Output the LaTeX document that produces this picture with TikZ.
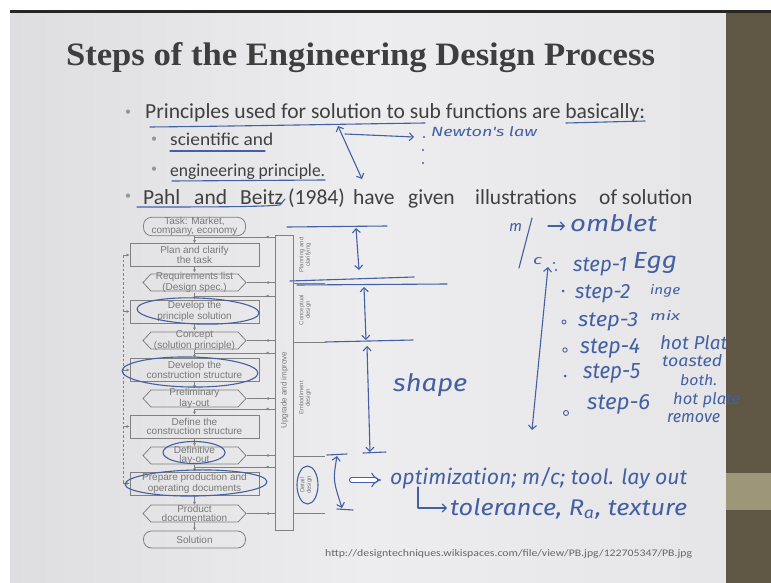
\documentclass[tikz,border=0pt]{standalone}
\usepackage{fontspec}
\setmainfont{Liberation Serif}
\newfontfamily\bodyfont{Carlito}
\newfontfamily\chartfont{Liberation Sans}
\newfontfamily\handfont{Fira Sans}
\usetikzlibrary{arrows.meta,calc,decorations.markings}

\definecolor{slidemid}{RGB}{237,237,239}
\definecolor{slideedge}{RGB}{222,222,224}
\definecolor{bandolive}{RGB}{96,86,68}
\definecolor{bandlight}{RGB}{158,150,120}
\definecolor{rulecol}{RGB}{40,38,36}
\definecolor{titlecol}{RGB}{62,62,62}
\definecolor{bodycol}{RGB}{64,64,64}
\definecolor{bulletcol}{RGB}{150,150,150}
\definecolor{chartline}{RGB}{128,128,128}
\definecolor{charttext}{RGB}{120,120,120}
\definecolor{ink}{RGB}{66,96,162}

% handwritten word, stretched into a box of given width and height
\newcommand\hw[3]{\resizebox{#1pt}{#2pt}{\handfont\itshape #3}}

\tikzset{
  chartedge/.style={draw=chartline, line width=0.8pt},
  chart/.style={font=\chartfont\fontsize{10}{9}\selectfont, text=charttext, align=center, inner sep=0pt},
  rectbox/.style={chart, chartedge, minimum width=129pt, minimum height=23pt},
  endbox/.style={chart, chartedge, rounded corners=8pt, minimum width=102pt, minimum height=17pt},
  hexcore/.style={chart, minimum width=87pt, minimum height=17pt},
  flowarrow/.style={chartedge, -{Latex[length=3pt,width=3pt]}},
  barlink/.style={chartedge, postaction={decorate},
    decoration={markings, mark=at position 9pt with {\arrow{Latex[length=3pt,width=3pt]}}}},
  phase/.style={chart, rotate=90, font=\chartfont\fontsize{6}{6.5}\selectfont},
  body/.style={text=bodycol, inner sep=0pt, anchor=base west},
  dot/.style={text=bulletcol, inner sep=0pt, font=\bodyfont\fontsize{12}{12}\selectfont},
  hand/.style={draw=ink, line width=1.1pt, line cap=round, line join=round},
  handarrow/.style={hand, {Straight Barb[length=4pt,width=8pt]}-{Straight Barb[length=4pt,width=8pt]}},
  handto/.style={hand, -{Straight Barb[length=4pt,width=8pt]}},
  handtext/.style={text=ink, inner sep=0pt, anchor=base west},
}

\begin{document}
\begin{tikzpicture}[x=1pt,y=-1pt]
\useasboundingbox (0,0) rectangle (771,583);

% slide and its frame
\fill[white] (0,0) rectangle (771,583);
\shade[left color=slideedge, right color=slideedge!50!slidemid, middle color=slidemid] (10,13) rectangle (726,583);
\fill[bandolive] (726,13) rectangle (771,583);
\fill[bandlight] (726,473) rectangle (771,510);
\fill[rulecol] (10,10.5) rectangle (771,13.5);

% title
\node[font=\fontsize{29}{32}\selectfont\bfseries, text=titlecol, inner sep=0pt, anchor=base] (title)
  at (360.5,66) {\resizebox{589pt}{23pt}{Steps of the Engineering Design Process}};

% bullet points
\node[dot] (d1) at (128,113) {\textbullet};
\node[body, font=\bodyfont\fontsize{21.5}{24}\selectfont] (b1) at (145,119)
  {\resizebox{500pt}{\height}{Principles used for solution to sub functions are basically:}};
\node[dot] (d2) at (154,140) {\textbullet};
\node[body, font=\bodyfont\fontsize{18}{20}\selectfont] (b2) at (170,146)
  {\resizebox{103pt}{\height}{scientific and}};
\node[dot] (d3) at (154,170) {\textbullet};
\node[body, font=\bodyfont\fontsize{18}{20}\selectfont] (b3) at (170,176)
  {\resizebox{155pt}{\height}{engineering principle.}};
\node[dot] (d4) at (128,197) {\textbullet};
\begin{scope}[every node/.style={body, font=\bodyfont\fontsize{21.5}{24}\selectfont}]
  \node (b4a) at (143,204) {Pahl};
  \node (b4b) at (194,204) {and};
  \node (b4c) at (240,204) {Beitz};
  \node (b4d) at (288,204) {(1984)};
  \node (b4e) at (353,204) {have};
  \node (b4f) at (408,204) {given};
  \node (b4g) at (475,204) {illustrations};
  \node (b4h) at (599,204) {of solution};
\end{scope}

% process chart
\node[endbox]  (task)       at (194.5,226.5) {Task: Market,\\company, economy};
\node[rectbox] (plan)       at (194.5,255)   {Plan and clarify\\the task};
\node[hexcore] (req)        at (194.5,282.5) {Requirements list\\(Design spec.)};
\node[rectbox] (dps)        at (194.5,311.5) {Develop the\\principle solution};
\node[hexcore] (concept)    at (194.5,340.5) {Concept\\(solution principle)};
\node[rectbox] (dcs)        at (194.5,370)   {Develop the\\construction structure};
\node[hexcore] (prelim)     at (194.5,398.5) {Preliminary\\lay-out};
\node[rectbox] (define)     at (194.5,426.5) {Define the\\construction structure};
\node[hexcore] (definitive) at (194.5,455.5) {Definitive\\lay-out};
\node[rectbox] (prepare)    at (194.5,483.5) {Prepare production and\\operating documents};
\node[hexcore] (product)    at (194.5,513.5) {Product\\documentation};
\node[endbox]  (solution)   at (194.5,539.5) {Solution};

% pointed outlines of the document boxes
\foreach \n in {req,concept,prelim,definitive,product}
  \draw[chartedge] (\n.center) ++(-43.5,-8.5) -- ++(87,0) -- ++(8,8.5) -- ++(-8,8.5)
    -- ++(-87,0) -- ++(-8,-8.5) -- cycle;

% main flow
\draw[flowarrow] (task) -- (plan);
\draw[flowarrow] (plan) -- (req);
\draw[flowarrow] (req) -- (dps);
\draw[flowarrow] (dps) -- (concept);
\draw[flowarrow] (concept) -- (dcs);
\draw[flowarrow] (dcs) -- (prelim);
\draw[flowarrow] (prelim) -- (define);
\draw[flowarrow] (define) -- (definitive);
\draw[flowarrow] (definitive) -- (prepare);
\draw[flowarrow] (prepare) -- (product);
\draw[flowarrow] (product) -- (solution);

% upgrade and improve bar
\node[chartedge, minimum width=18pt, minimum height=295pt, inner sep=0pt] (bar) at (284,382.5) {};
\node[chart, rotate=90, font=\chartfont\fontsize{8}{8}\selectfont] (barlabel) at (284.5,390) {Upgrade and improve};

\coordinate (j1) at (194.5,237);
\coordinate (j2) at (194.5,296);
\coordinate (j3) at (194.5,353);
\coordinate (j4) at (194.5,409);
\coordinate (j5) at (194.5,467);
\foreach \j in {j1,j2,j3,j4,j5}
  \draw[barlink] (bar.west |- \j) -- (\j);
\foreach \n in {req,concept,prelim,definitive,product}
  \draw[barlink] (bar.west |- \n.center) -- ([xshift=8.5pt]\n.east |- \n.center);

% feedback line on the left
\coordinate (fbtop) at (123,255);
\coordinate (fbbot) at (123,483.5);
\draw[chartedge, dash pattern=on 2.5pt off 2pt] (fbtop) -- (fbbot);
\foreach \n in {plan,dps,dcs,define,prepare}
  \draw[flowarrow] (fbtop |- \n.west) -- (\n.west);

% phase column
\foreach \yy in {283,342,456,513}
  \draw[chartedge] (293,\yy) -- (325,\yy);
\node[phase] (ph1) at (305,255) {Planning and\\clarifying};
\node[phase] (ph2) at (305,310) {Conceptual\\design};
\node[phase] (ph3) at (305,398) {Embodiment\\design};
\node[phase] (ph4) at (306,485) {Detail\\design};

% source
\node[body, text=bodycol!80, font=\bodyfont\fontsize{10}{10}\selectfont] (src) at (325,556)
  {\resizebox{367pt}{\height}{http://designtechniques.wikispaces.com/file/view/PB.jpg/122705347/PB.jpg}};

% ---- pen annotations ----
% underlines
\draw[hand] (150,127) .. controls (250,126) and (350,124) .. (425,123);
\draw[hand] (566,123) -- (645,121);
\draw[hand] (170,151) -- (265,151);
\draw[hand] (172,181) -- (325,180);
\draw[hand] (137,207) .. controls (200,207) and (260,207) .. (280,205) -- (285,199);

% Newton's law note
\draw[handarrow] (338,126) -- (362,179);
\draw[handto] (345,134) -- (414,137);
\fill[ink] (424,137) circle (1.2pt) (423,150) circle (1.2pt) (423,163) circle (1.2pt);
\node[handtext] (n1) at (431,136) {\hw{106}{10}{Newton's law}};

% highlighted chart boxes
\draw[hand, rotate around={-2:(198,311)}] (198,311) ellipse [x radius=61pt, y radius=13pt];
\draw[hand, rotate around={-1:(190,372)}] (190,372) ellipse [x radius=68pt, y radius=15pt];
\draw[hand] (194,452.5) ellipse [x radius=31pt, y radius=11pt];
\draw[hand, rotate around={1:(196,483)}] (196,483) ellipse [x radius=71pt, y radius=13pt];
\draw[hand] (307.5,485) ellipse [x radius=10.5pt, y radius=19pt];

% phase markings
\draw[hand] (287,227) -- (387,226);
\draw[hand] (290,281) -- (414,277);
\draw[hand] (297,285) -- (447,284);
\draw[hand] (325,342) -- (413,340);
\draw[hand] (327,455) -- (347,454);
\draw[hand] (363,453) -- (386,452);
\draw[hand] (337,509) -- (353,510);
\draw[handarrow] (356,228) -- (359,270);
\draw[handarrow] (364,287) -- (366,340);
\draw[handarrow] (367,346) -- (370,452);
\draw[handarrow] (337,456) .. controls (333,480) .. (342,508);
\node[handtext] (sh) at (393,391) {\hw{74}{18}{shape}};

% detail design notes
\draw[hand, double, double distance=4pt, -Implies] (352,480) -- (381,480);
\node[handtext] (op) at (390,484) {\hw{297}{17}{optimization; m/c; tool. lay out}};
\draw[handto] (418,487) -- (418,508) -- (447,508);
\node[handtext] (tl) at (450,515) {\hw{237}{17}{tolerance, R\textsubscript{a}, texture}};

% omelette steps
\node[handtext] (m1) at (509,231) {\hw{13}{8}{m}};
\draw[hand] (532,218) -- (519,268);
\node[handtext] (c1) at (533,264) {\hw{9}{7}{c}};
\draw[handto] (548,226) -- (565,226);
\node[handtext] (om) at (570,231) {\hw{87}{17}{omblet}};
\draw[handarrow] (548,267) -- (532,430);
\fill[ink] (554,263) circle (1.1pt) (556,270) circle (1.1pt);
\node[handtext] (s1) at (573,271) {\hw{54}{14}{step-1}};
\node[handtext] (e1) at (633,268) {\hw{44}{16}{Egg}};
\fill[ink] (563,291) circle (1.5pt);
\node[handtext] (s2) at (575,298) {\hw{55}{14}{step-2}};
\node[handtext] (i2) at (650,294) {\hw{30}{10}{inge}};
\draw[hand, line width=0.9pt] (564,322) circle (2pt);
\node[handtext] (s3) at (578,326) {\hw{60}{14}{step-3}};
\node[handtext] (x3) at (650,320) {\hw{30}{10}{mix}};
\draw[hand, line width=0.9pt] (565,350) circle (2.2pt);
\node[handtext] (s4) at (580,353) {\hw{60}{15}{step-4}};
\node[handtext] (p4) at (660,349) {\hw{67}{14}{hot Plat}};
\fill[ink] (565,376) circle (1.5pt);
\node[handtext] (s5) at (583,378) {\hw{57}{15}{step-5}};
\node[handtext] (t5) at (662,366) {\hw{60}{12}{toasted}};
\node[handtext] (b5) at (680,385) {\hw{37}{11}{both.}};
\draw[hand, line width=0.9pt] (566,413) circle (2.5pt);
\node[handtext] (s6) at (587,409) {\hw{63}{15}{step-6}};
\node[handtext] (p6) at (673,404) {\hw{67}{12}{hot plate}};
\node[handtext] (r6) at (667,422) {\hw{53}{9}{remove}};
\end{tikzpicture}
\end{document}
